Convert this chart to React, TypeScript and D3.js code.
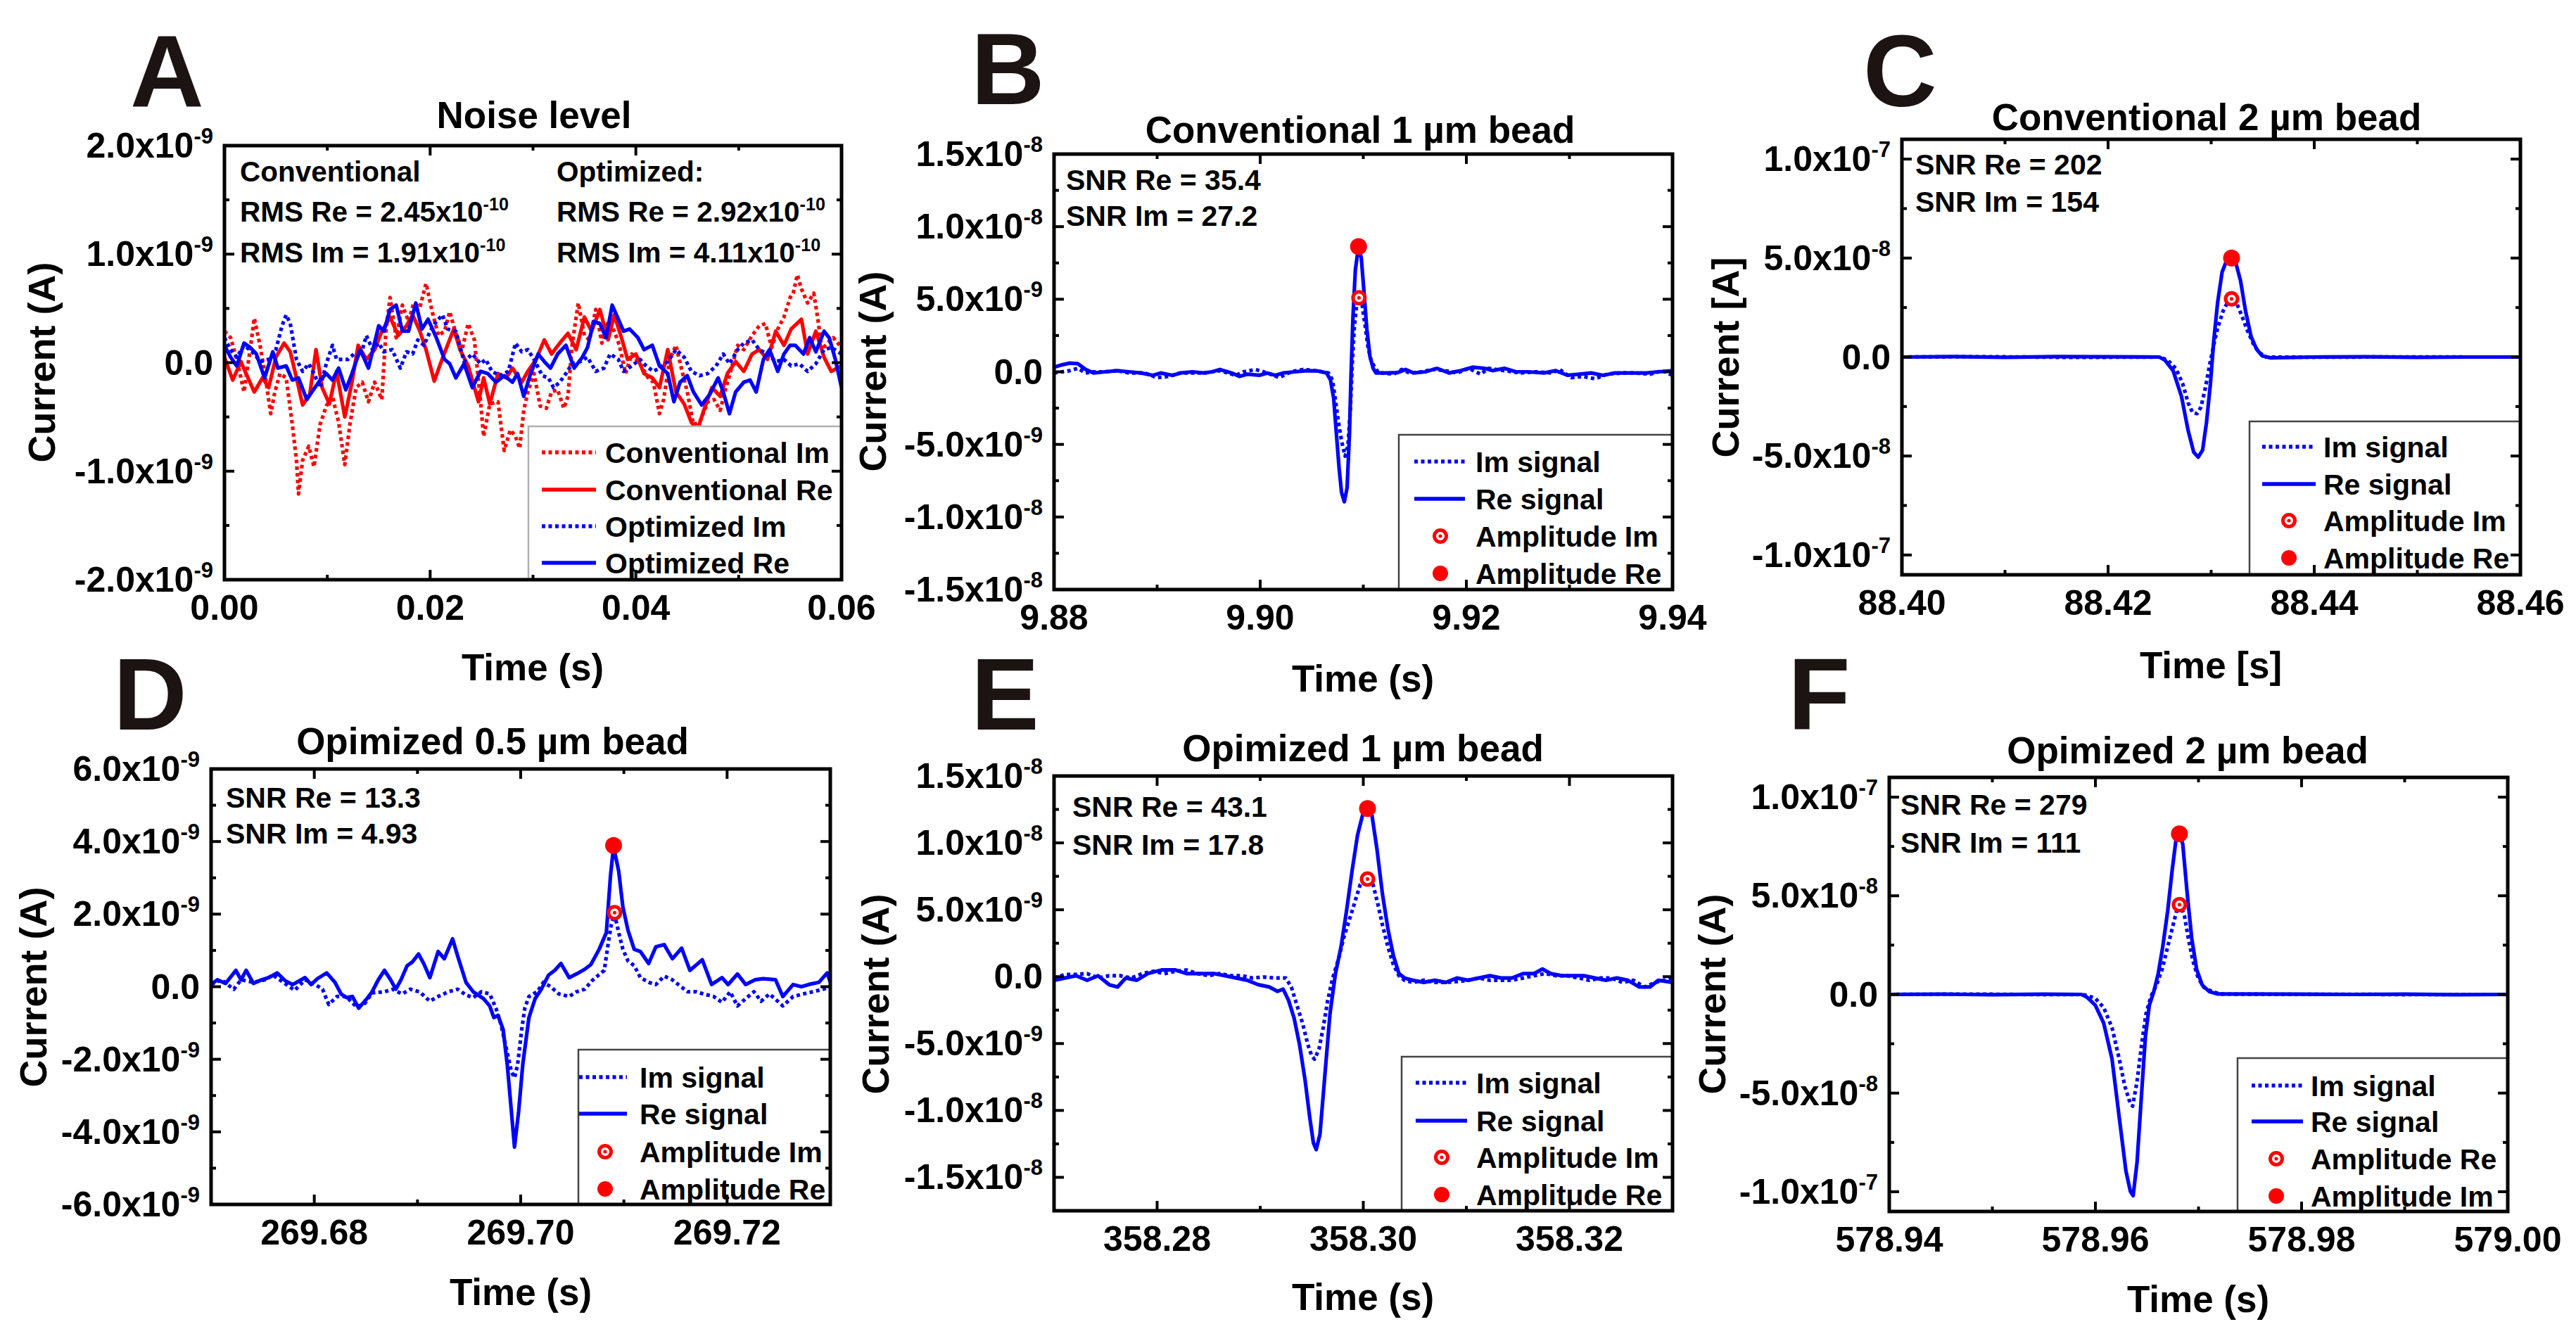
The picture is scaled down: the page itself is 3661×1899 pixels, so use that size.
import * as d3 from "d3";

const FONT = "'Liberation Sans', Arial, Helvetica, sans-serif";
const BLUE = "#0000ff";
const RED = "#ff0000";
const LETTER_INK = "#1b1412";

type Pt = [number, number]; // [ms from the panel's first time, value in the panel's unit]

// ---------- A: noise level (ms, 1e-10 A)
const noiseConvIm: Pt[] = [[0,2.9],[0.6,2.3],[1.2,0.3],[1.9,-2.7],[2.5,1.2],[2.9,4.1],[3.5,1.4],[3.9,-0.8],[4.5,-4.7],[4.9,-2.7],[5.4,-1.0],[6.0,-1.4],[6.6,-5.7],[7.0,-9.0],[7.2,-12.1],[7.6,-9.0],[8.2,-7.7],[8.7,-9.6],[9.3,-5.7],[9.9,-4.0],[10.5,-3.1],[11.1,-5.5],[11.7,-9.4],[12.2,-5.7],[12.8,-2.3],[13.4,-1.8],[14.0,-3.6],[14.6,-1.8],[15.3,-3.4],[15.7,2.9],[16.1,6.0],[16.7,2.3],[17.3,5.3],[17.9,3.8],[18.4,5.5],[19.0,5.1],[19.6,7.3],[20.2,4.7],[20.8,2.5],[21.4,2.9],[21.9,4.7],[22.5,2.7],[23.1,1.2],[23.7,3.6],[24.3,2.1],[24.9,-3.6],[25.2,-6.8],[25.8,-3.8],[26.6,-3.6],[27.2,-8.1],[27.8,-6.2],[28.3,-6.8],[28.7,-7.9],[29.1,-4.4],[29.5,-2.7],[30.1,-1.0],[30.7,-4.0],[31.3,-4.2],[31.8,-2.7],[32.4,-2.5],[33.0,-4.2],[33.4,-3.1],[33.8,1.6],[34.4,5.5],[35.0,2.5],[35.5,2.1],[36.1,4.9],[36.7,1.8],[37.3,3.8],[37.9,2.9],[38.4,1.6],[39.0,-1.0],[39.6,0.8],[40.4,-0.1],[41.2,-1.4],[41.7,-1.8],[42.3,-4.7],[42.7,-3.4],[43.3,0.3],[43.9,1.6],[44.5,-0.8],[45.0,-2.7],[45.6,-5.7],[46.2,-5.5],[47.0,-3.6],[47.6,-3.4],[48.2,-4.4],[48.7,-2.5],[49.3,-0.5],[49.9,1.6],[50.5,1.2],[51.3,2.5],[52.0,3.4],[52.6,3.6],[53.2,1.4],[53.8,3.1],[54.4,4.2],[55.0,6.0],[55.3,6.4],[55.7,8.1],[56.1,6.8],[56.7,5.5],[57.3,6.4],[57.7,4.0],[58.1,1.2],[58.6,1.8],[59.2,2.3],[60.0,1.4]];
const noiseConvRe: Pt[] = [[0,0.5],[0.8,-1.6],[1.6,0.1],[2.1,-1.0],[2.9,-2.7],[3.7,-1.4],[4.3,-2.3],[5.0,0.5],[5.8,1.8],[6.4,1.0],[7.0,-1.4],[7.6,-3.9],[8.3,-2.9],[8.9,1.2],[9.5,-2.3],[10.2,-3.8],[10.9,-0.8],[11.7,-5.0],[12.4,-1.8],[13.0,1.6],[13.8,0.3],[14.6,1.2],[15.3,2.9],[16.1,4.2],[16.9,2.5],[17.7,3.4],[18.3,4.4],[19.0,2.9],[19.6,1.2],[20.4,-1.7],[21.0,-0.1],[21.6,1.4],[22.3,3.1],[22.9,1.2],[23.7,-0.3],[24.7,-3.6],[25.2,-1.4],[25.8,-3.8],[26.6,-1.0],[27.4,-1.4],[28.0,-0.5],[28.9,-1.8],[29.5,-0.8],[30.3,0.3],[31.1,2.1],[31.8,0.8],[32.6,1.8],[33.4,2.7],[34.2,1.2],[35.0,4.2],[35.7,2.9],[36.5,4.9],[37.3,2.1],[37.9,4.4],[38.6,2.3],[39.2,0.3],[40.0,0.8],[40.8,-1.0],[41.6,-1.4],[42.3,-2.3],[43.1,1.2],[43.9,-2.7],[44.7,-3.8],[45.4,-5.5],[46.0,-6.2],[46.6,-4.4],[47.4,-2.3],[48.2,-3.1],[48.9,-1.0],[49.7,0.1],[50.5,-0.8],[51.3,0.8],[52.0,1.2],[52.8,0.3],[53.6,2.9],[54.4,1.6],[55.1,3.1],[56.1,4.0],[56.7,0.8],[57.5,2.9],[58.3,0.5],[59.0,-0.8],[60.0,-0.3]];
const noiseOptIm: Pt[] = [[0,2.3],[0.6,1.2],[1.2,0.5],[1.9,1.6],[2.7,1.0],[3.5,0.1],[4.3,0.3],[5.0,1.2],[5.6,3.4],[6.0,4.4],[6.4,3.6],[7.0,0.3],[7.6,-0.8],[8.2,-0.1],[8.7,-1.0],[9.3,-2.3],[9.9,-0.1],[10.5,1.6],[10.9,0.3],[11.5,0.3],[12.0,0.3],[12.6,0.8],[13.2,0.5],[13.8,2.5],[14.4,1.2],[15.0,1.8],[15.5,1.0],[16.3,1.2],[17.1,-0.5],[17.7,1.0],[18.3,0.8],[18.8,2.1],[19.4,1.6],[20.0,2.9],[20.6,3.8],[21.2,4.4],[21.7,3.1],[22.5,2.9],[23.3,0.1],[24.1,0.8],[24.9,-0.1],[25.4,0.3],[26.0,-0.8],[26.8,-1.2],[27.6,-0.8],[28.3,1.8],[28.9,1.0],[29.5,1.2],[30.1,0.3],[30.9,-1.2],[31.5,-1.4],[32.0,-2.3],[32.6,-1.8],[33.2,-1.0],[33.8,-0.1],[34.6,0.1],[35.3,0.5],[36.1,-0.8],[36.9,-0.5],[37.5,0.8],[38.3,0.3],[38.8,-0.8],[39.6,-0.3],[40.4,0.3],[41.0,-0.3],[41.7,-0.8],[42.3,-0.5],[43.1,0.1],[43.9,1.2],[44.7,0.5],[45.4,-0.8],[46.2,-1.2],[47.0,-1.0],[47.8,-0.3],[48.5,0.8],[49.1,-0.1],[49.9,1.2],[50.5,1.8],[51.3,2.1],[52.0,1.2],[52.8,0.8],[53.6,0.1],[54.4,0.3],[55.1,-0.3],[55.9,-0.1],[56.7,-0.8],[57.5,-0.1],[58.3,1.2],[59.0,1.4],[60.0,0.8]];
const noiseOptRe: Pt[] = [[0,1.6],[0.6,0.5],[1.2,-0.3],[1.9,1.8],[2.5,1.4],[3.1,0.8],[3.9,-1.4],[4.7,1.0],[5.2,-0.5],[6.0,-0.3],[6.6,-1.6],[7.2,-1.4],[8.0,-3.4],[8.5,-2.7],[9.3,-1.6],[9.9,-1.0],[10.5,-1.6],[11.1,-0.5],[11.8,-2.5],[12.4,-1.0],[13.2,1.2],[14.0,-0.5],[15.0,3.4],[15.5,2.9],[16.1,4.9],[16.7,5.3],[17.3,2.9],[17.9,2.9],[18.6,5.5],[19.2,3.1],[19.8,4.0],[20.6,2.3],[21.4,0.3],[21.9,-0.1],[22.5,-1.4],[23.3,-0.1],[24.1,-2.3],[24.9,-0.8],[25.6,-1.0],[26.4,-1.8],[27.2,-1.2],[28.0,-1.8],[28.5,-1.0],[29.1,-3.1],[29.7,-1.2],[30.5,0.8],[31.1,0.1],[31.7,-0.5],[32.4,0.8],[33.2,1.6],[34.0,-0.5],[34.8,0.5],[35.3,1.4],[35.9,3.8],[36.5,3.6],[37.1,2.3],[37.7,5.3],[38.3,4.0],[38.8,2.9],[39.4,3.1],[40.2,2.3],[40.8,1.2],[41.6,1.6],[42.3,-0.3],[43.1,-1.0],[43.7,-3.6],[44.3,-1.8],[45.0,-1.2],[45.6,-2.7],[46.4,-3.9],[47.2,-2.9],[48.0,-1.4],[48.5,-2.7],[49.1,-4.7],[49.7,-2.7],[50.5,-1.8],[51.1,-1.6],[51.7,-2.7],[52.4,0.3],[53.0,1.2],[53.8,-0.8],[54.4,0.8],[55.0,1.6],[55.5,1.6],[56.3,0.8],[56.9,2.3],[57.5,1.0],[58.3,2.9],[58.8,2.3],[59.4,0.3],[60.0,-2.3]];

// ---------- B: conventional 1 um bead (ms from 9.88 s, 1e-9 A)
const conv1Im: Pt[] = [[0,-0.08],[0.77,0],[1.53,0.08],[2.3,0.24],[3.07,-0.08],[3.83,0],[4.98,0],[6.13,0.08],[7.28,-0.08],[8.81,-0.08],[9.96,-0.4],[11.11,-0.32],[12.26,-0.08],[13.41,-0.08],[14.56,-0.08],[16.09,0.08],[17.62,-0.24],[18.39,0],[19.54,0.16],[20.69,-0.08],[21.84,-0.4],[22.99,0],[24.14,0.16],[25.29,0.08],[26.63,-0.08],[27.01,-0.56],[27.28,-1.85],[27.59,-3.47],[27.89,-4.76],[28.24,-5.81],[28.51,-5.08],[28.74,-2.66],[28.93,0.56],[29.12,2.98],[29.35,4.6],[29.58,5.08],[29.89,4.6],[30.15,3.31],[30.46,1.69],[30.77,0.73],[31.11,0.32],[31.49,-0.08],[31.8,-0.08],[32.95,-0.16],[33.72,0.16],[34.48,-0.08],[35.63,0],[36.78,0.16],[37.93,0.08],[39.08,-0.08],[40.23,0.24],[41.38,-0.16],[42.15,0.24],[43.68,0.08],[45.21,-0.08],[46.74,0],[48.28,-0.08],[49.04,0.16],[50.19,-0.4],[51.34,-0.32],[52.49,-0.48],[53.64,-0.16],[55.17,-0.08],[56.32,-0.08],[57.85,-0.16],[59.0,0.08],[60.0,-0.24]];
const conv1Re: Pt[] = [[0,0.32],[0.77,0.48],[1.53,0.6],[2.3,0.56],[3.07,0.16],[3.83,-0.08],[4.98,0],[6.13,0.08],[7.28,0],[8.43,-0.08],[9.58,-0.24],[10.34,-0.08],[11.49,-0.24],[12.26,-0.08],[13.41,0],[14.56,-0.08],[15.33,0],[16.09,0.16],[17.24,-0.08],[18.0,-0.32],[18.77,-0.16],[19.92,-0.24],[20.69,-0.08],[21.46,-0.24],[22.22,-0.08],[23.37,0],[24.52,0.08],[25.67,0.05],[26.44,-0.08],[26.82,-0.56],[27.13,-1.85],[27.39,-4.27],[27.66,-6.69],[27.89,-8.31],[28.16,-8.95],[28.43,-7.98],[28.66,-4.27],[28.81,-0.24],[29.0,3.79],[29.23,7.02],[29.54,8.63],[29.81,7.82],[30.08,5.4],[30.34,2.98],[30.65,1.05],[30.96,0.24],[31.23,-0.08],[32.18,-0.08],[33.33,-0.05],[34.1,0.16],[34.87,-0.08],[36.02,0],[37.16,0.24],[38.31,-0.08],[39.46,0.08],[40.61,0.32],[41.76,0.24],[42.53,0.08],[43.68,0.24],[44.83,0],[45.98,0],[47.51,-0.08],[48.66,0.08],[49.81,-0.24],[50.96,-0.16],[52.11,-0.08],[53.26,-0.24],[54.41,-0.08],[55.94,-0.08],[57.47,-0.08],[58.62,0],[60.0,0.08]];
const conv1Amp: Pt[] = [[29.54, 8.63], [29.58, 5.1]]; // Re, Im

// ---------- C: conventional 2 um bead (ms from 88.40 s, 1e-8 A)
const conv2Im: Pt[] = [[0,0],[5,0.01],[10,0.01],[15,-0.01],[20,-0.01],[24.96,0],[25.77,-0.15],[26.58,-0.58],[27.23,-1.34],[27.77,-2.32],[28.2,-2.81],[28.63,-2.86],[29.01,-2.53],[29.44,-1.56],[29.82,-0.48],[30.25,0.61],[30.63,1.47],[31.17,2.34],[31.71,2.88],[32.09,2.99],[32.52,2.66],[32.95,2.12],[33.5,1.36],[34.14,0.61],[34.68,0.22],[35.33,0],[40,-0.01],[45,0],[50,0.01],[55,0],[60,0]];
const conv2Re: Pt[] = [[0,0],[5,0.02],[10,-0.01],[15,0.02],[20,0.01],[24.96,0],[25.5,-0.15],[26.31,-0.69],[27.12,-1.99],[27.77,-3.72],[28.31,-4.81],[28.74,-5.06],[29.17,-4.7],[29.55,-3.29],[29.93,-1.34],[30.25,0.82],[30.63,2.77],[31.06,4.29],[31.55,4.94],[31.98,5.0],[32.41,4.72],[32.85,3.85],[33.33,2.34],[33.87,1.04],[34.41,0.39],[34.95,0.06],[35.76,-0.04],[40,0],[45,0.01],[50,-0.01],[55,0],[60,0]];
const conv2Amp: Pt[] = [[31.98, 5.0], [31.98, 2.94]];

// ---------- D: optimized 0.5 um bead (ms from 269.67 s, 1e-9 A)
const opt05Im: Pt[] = [[0,0.06],[1.0,0.19],[2.2,-0.07],[2.9,0.19],[4.1,0.12],[5.2,0.19],[6.0,0.32],[7.0,0.12],[8.1,-0.1],[9.1,0.19],[10.1,0.06],[10.8,-0.07],[11.4,-0.49],[12.2,-0.27],[13.1,-0.27],[14.1,-0.56],[14.9,-0.46],[15.6,-0.17],[16.8,-0.14],[17.6,-0.07],[18.5,-0.2],[19.3,-0.07],[20.2,-0.14],[21.2,-0.4],[22.0,-0.27],[23.0,-0.14],[23.9,-0.07],[24.7,-0.23],[25.4,-0.3],[26.2,-0.14],[27.0,-0.2],[27.6,-0.59],[28.1,-1.05],[28.7,-1.82],[29.1,-2.34],[29.4,-2.51],[29.7,-2.15],[30.1,-1.18],[30.4,-0.59],[30.8,-0.27],[31.6,-0.14],[32.2,0.12],[32.9,0],[33.7,-0.2],[34.7,-0.27],[35.4,-0.14],[36.2,-0.07],[37.0,0.19],[37.8,0.38],[38.1,0.45],[38.5,1.23],[38.8,1.75],[39.1,2.0],[39.5,1.49],[39.9,1.03],[40.4,0.71],[41.0,0.58],[41.6,0.25],[42.4,0.12],[43.1,0.06],[43.9,0.29],[44.7,0.19],[45.4,0.03],[46.2,-0.14],[47.0,-0.14],[47.7,-0.2],[48.7,-0.27],[49.5,-0.43],[50.3,-0.14],[51.0,-0.53],[51.8,-0.33],[52.6,-0.14],[53.3,-0.4],[54.1,-0.2],[54.9,-0.4],[55.4,-0.53],[56.4,-0.27],[57.4,-0.2],[58.3,-0.14],[59.3,-0.07],[60.0,0]];
const opt05Re: Pt[] = [[0,0.06],[0.6,0.19],[1.4,0.09],[2.4,0.45],[2.9,0.19],[3.4,0.45],[4.1,0.09],[4.9,0.19],[5.6,0.25],[6.4,0.38],[7.2,0.16],[7.9,0.06],[9.1,0.25],[9.7,0.06],[10.3,0.22],[11.2,0.38],[12.0,0.12],[12.6,-0.2],[13.1,-0.3],[13.7,-0.27],[14.3,-0.59],[15.1,-0.33],[15.6,-0.14],[16.2,0.19],[16.8,0.45],[17.4,0.19],[17.9,-0.07],[18.4,0.19],[19.0,0.58],[19.5,0.68],[20.1,0.9],[20.6,0.64],[21.2,0.25],[22.0,0.97],[22.6,0.77],[23.4,1.32],[23.9,0.84],[24.7,0.12],[25.4,-0.14],[26.4,-0.33],[27.0,-0.53],[27.4,-0.85],[27.8,-0.79],[28.3,-1.18],[28.7,-2.15],[29.1,-3.44],[29.4,-4.42],[29.8,-3.44],[30.2,-2.15],[30.8,-0.85],[31.4,-0.33],[32.0,-0.07],[32.7,0.32],[33.3,0.45],[33.9,0.64],[34.7,0.25],[35.4,0.35],[36.2,0.48],[36.8,0.61],[37.6,1.03],[38.3,1.49],[38.7,3.05],[39.0,3.86],[39.5,3.18],[39.9,2.2],[40.4,1.55],[41.0,1.03],[41.6,0.97],[42.4,0.64],[43.1,1.1],[43.9,1.16],[44.7,0.77],[45.6,1.06],[46.4,0.45],[47.6,0.74],[48.5,0.06],[49.5,0.25],[50.1,0.06],[51.0,0.35],[51.8,0.06],[52.7,0.19],[53.5,0.22],[54.7,0.19],[55.4,-0.27],[56.4,0.06],[57.2,0],[57.9,0.06],[58.9,0.12],[59.7,0.38],[60.0,0.12]];
const opt05Amp: Pt[] = [[39.0, 3.89], [39.1, 2.04]];

// ---------- E: optimized 1 um bead (ms from 358.27 s, 1e-9 A)
const opt1Im: Pt[] = [[0,-0.1],[1.07,0.17],[2.14,0.17],[3.21,0.23],[4.28,-0.1],[5.35,0.07],[6.42,0.07],[7.49,-0.1],[8.57,0.23],[9.64,0.4],[10.71,0.23],[11.78,0.4],[12.85,0.5],[13.92,0.23],[14.99,0.07],[16.06,0.23],[17.13,0.07],[18.2,0.07],[19.27,-0.1],[20.34,-0.03],[21.41,-0.1],[22.48,-0.1],[23.02,-0.77],[23.55,-2.1],[24.09,-3.43],[24.63,-5.1],[25.0,-5.93],[25.27,-6.17],[25.7,-5.43],[26.12,-3.77],[26.55,-1.77],[27.03,-0.1],[27.57,1.23],[28.1,2.9],[28.64,4.23],[29.18,5.57],[29.71,6.9],[30.14,7.3],[30.51,7.25],[30.94,6.9],[31.37,5.57],[31.85,3.9],[32.39,2.23],[32.92,0.9],[33.46,0.07],[34.0,-0.27],[34.8,-0.43],[35.87,-0.27],[36.94,-0.43],[38.01,-0.43],[39.08,-0.37],[40.15,-0.27],[41.22,-0.1],[42.29,-0.27],[43.36,-0.27],[44.43,-0.27],[45.5,-0.1],[46.57,0.07],[47.64,0.23],[48.72,0.07],[49.79,0.07],[50.86,-0.1],[51.93,-0.27],[53.0,-0.1],[54.07,-0.1],[55.14,-0.43],[56.21,-0.27],[57.28,-0.77],[58.35,-0.43],[60.0,-0.1]];
const opt1Re: Pt[] = [[0,-0.27],[1.07,-0.1],[2.14,0.07],[3.21,-0.27],[4.28,0.07],[5.35,-0.6],[6.16,-0.77],[6.96,-0.1],[8.03,-0.27],[9.1,0.23],[10.44,0.5],[11.78,0.5],[12.85,0.23],[14.19,0.23],[15.52,0.23],[16.6,0.07],[17.67,-0.1],[18.74,-0.27],[19.81,-0.6],[20.88,-0.77],[21.68,-1.1],[22.22,-0.93],[22.75,-1.77],[23.29,-3.1],[23.82,-5.1],[24.36,-7.77],[24.79,-10.43],[25.16,-12.43],[25.43,-12.93],[25.8,-11.77],[26.23,-7.77],[26.77,-2.77],[27.3,0.23],[27.84,2.23],[28.37,4.9],[28.91,7.9],[29.44,10.57],[29.98,12.23],[30.41,12.57],[30.84,12.07],[31.32,9.57],[31.85,6.23],[32.39,3.57],[32.92,1.57],[33.46,0.23],[34.0,-0.1],[34.8,-0.27],[35.87,-0.43],[36.94,-0.27],[38.01,-0.43],[39.08,-0.1],[40.15,-0.27],[41.22,-0.1],[42.29,0.07],[43.36,-0.1],[44.43,-0.1],[45.5,0.23],[46.57,0.23],[47.38,0.57],[48.18,0.23],[49.25,0.07],[50.32,0.07],[51.39,0.07],[52.46,-0.1],[53.53,-0.27],[54.6,-0.1],[55.67,-0.27],[56.75,-0.77],[57.82,-0.77],[58.62,-0.27],[60.0,-0.43]];
const opt1Amp: Pt[] = [[30.41, 12.57], [30.41, 7.3]];

// ---------- F: optimized 2 um bead (ms from 578.94 s, 1e-8 A)
const opt2Im: Pt[] = [[0,0],[5,0.01],[10,0.01],[15,-0.01],[18.64,0],[19.18,-0.05],[19.99,-0.2],[20.8,-0.66],[21.61,-1.68],[22.31,-3.27],[22.85,-4.64],[23.39,-5.55],[23.61,-5.66],[24.04,-4.41],[24.47,-2.59],[24.9,-1.0],[25.39,-0.09],[25.93,0.48],[26.47,1.27],[27.01,2.41],[27.55,3.55],[27.93,4.34],[28.26,4.52],[28.63,4.0],[29.01,2.86],[29.44,1.73],[29.98,0.82],[30.52,0.36],[31.33,0.14],[32.14,0.02],[40,0],[45,0.01],[50,-0.01],[55,0],[60,0]];
const opt2Re: Pt[] = [[0,0],[5,0.01],[10,-0.01],[15,0.01],[18.64,0],[19.18,-0.14],[19.99,-0.55],[20.8,-1.45],[21.61,-3.27],[22.31,-6.23],[22.96,-8.95],[23.39,-9.98],[23.66,-10.2],[24.04,-8.5],[24.47,-5.09],[24.85,-2.14],[25.23,-0.55],[25.66,0.14],[26.09,1.05],[26.53,2.41],[27.01,4.23],[27.44,6.27],[27.82,7.86],[28.15,8.09],[28.47,7.64],[28.9,5.14],[29.34,2.86],[29.82,1.27],[30.36,0.48],[31.06,0.14],[31.87,0.02],[40,0.01],[45,0],[50,0.01],[55,-0.01],[60,0]];
const opt2Amp: Pt[] = [[28.15, 8.14], [28.15, 4.55]];

// ---------- tick values
const xTicksA = [0, 0.02, 0.04, 0.06];
const xMinorA = [0.01, 0.03, 0.05];
const yTicksA = [-2e-9, -1e-9, 0, 1e-9, 2e-9];
const yMinorA = [-1.5e-9, -0.5e-9, 0.5e-9, 1.5e-9];
const xTicksB = [9.88, 9.9, 9.92, 9.94];
const xMinorB = [9.89, 9.91, 9.93];
const yTicks15 = [-1.5e-8, -1e-8, -5e-9, 0, 5e-9, 1e-8, 1.5e-8];
const yMinor15 = [-1.25e-8, -7.5e-9, -2.5e-9, 2.5e-9, 7.5e-9, 1.25e-8];
const xTicksC = [88.4, 88.42, 88.44, 88.46];
const xMinorC = [88.41, 88.43, 88.45];
const yTicks10 = [-1e-7, -5e-8, 0, 5e-8, 1e-7];
const yMinor10 = [-7.5e-8, -2.5e-8, 2.5e-8, 7.5e-8];
const xTicksD = [269.68, 269.7, 269.72];
const xMinorD = [269.69, 269.71];
const yTicksD = [-6e-9, -4e-9, -2e-9, 0, 2e-9, 4e-9, 6e-9];
const yMinorD = [-5e-9, -3e-9, -1e-9, 1e-9, 3e-9, 5e-9];
const xTicksE = [358.28, 358.3, 358.32];
const xMinorE = [358.29, 358.31];
const xTicksF = [578.94, 578.96, 578.98, 579.0];
const xMinorF = [578.95, 578.97, 578.99];

type Curve = { pts: Pt[]; color: string; dotted?: boolean };
type Key = { label: string; color: string; kind: "solid" | "dotted" | "open" | "filled" };
type Note = { text: string; sup?: string; x: number; y: number };

type PanelSpec = {
  letter: string; letterAt: [number, number];
  title: string; titleAt: [number, number];
  box: { x0: number; y0: number; x1: number; y1: number };
  t0: number; unit: number; yDomain: [number, number];
  xTicks: number[]; xMinor: number[]; xDigits: number;
  yTicks: number[]; yMinor: number[];
  curves: Curve[]; amp?: Pt[];
  xLabel: string; xLabelAt: [number, number];
  yLabel: string; yLabelAt: [number, number];
  notes: Note[]; noteSize: number;
  legend: { x0: number; y0: number; rows: number[]; lineX: [number, number]; markX: number; textX: number; size: number; border: string; keys: Key[] };
};

const beadKeys = (swap: boolean): Key[] => [
  { label: "Im signal", color: BLUE, kind: "dotted" },
  { label: "Re signal", color: BLUE, kind: "solid" },
  { label: swap ? "Amplitude Re" : "Amplitude Im", color: RED, kind: "open" },
  { label: swap ? "Amplitude Im" : "Amplitude Re", color: RED, kind: "filled" },
];

const beadCurves = (im: Pt[], re: Pt[]): Curve[] => [
  { pts: im, color: BLUE, dotted: true },
  { pts: re, color: BLUE },
];

const panels: PanelSpec[] = [
  {
    letter: "A", letterAt: [185, 151], title: "Noise level", titleAt: [759, 182],
    box: { x0: 319, y0: 207, x1: 1196, y1: 824 }, t0: 0, unit: 1e-10, yDomain: [-2e-9, 2e-9],
    xTicks: xTicksA, xMinor: xMinorA, xDigits: 2, yTicks: yTicksA, yMinor: yMinorA,
    curves: [
      { pts: noiseConvIm, color: RED, dotted: true },
      { pts: noiseConvRe, color: RED },
      { pts: noiseOptIm, color: BLUE, dotted: true },
      { pts: noiseOptRe, color: BLUE },
    ],
    xLabel: "Time (s)", xLabelAt: [757, 967], yLabel: "Current (A)", yLabelAt: [78, 515],
    noteSize: 40.5,
    notes: [
      { text: "Conventional", x: 341, y: 258 },
      { text: "RMS Re = 2.45x10", sup: "-10", x: 341, y: 315 },
      { text: "RMS Im = 1.91x10", sup: "-10", x: 341, y: 373 },
      { text: "Optimized:", x: 791, y: 258 },
      { text: "RMS Re = 2.92x10", sup: "-10", x: 791, y: 315 },
      { text: "RMS Im = 4.11x10", sup: "-10", x: 791, y: 373 },
    ],
    legend: {
      x0: 751, y0: 606, rows: [643, 696, 748, 800], lineX: [770, 847], markX: 808, textX: 860, size: 41, border: "#b0b0b0",
      keys: [
        { label: "Conventional Im", color: RED, kind: "dotted" },
        { label: "Conventional Re", color: RED, kind: "solid" },
        { label: "Optimized Im", color: BLUE, kind: "dotted" },
        { label: "Optimized Re", color: BLUE, kind: "solid" },
      ],
    },
  },
  {
    letter: "B", letterAt: [1380, 148], title: "Conventional 1 \u00b5m bead", titleAt: [1933, 203],
    box: { x0: 1498, y0: 219, x1: 2377, y1: 838 }, t0: 9.88, unit: 1e-9, yDomain: [-1.5e-8, 1.5e-8],
    xTicks: xTicksB, xMinor: xMinorB, xDigits: 2, yTicks: yTicks15, yMinor: yMinor15,
    curves: beadCurves(conv1Im, conv1Re), amp: conv1Amp,
    xLabel: "Time (s)", xLabelAt: [1937, 983], yLabel: "Current (A)", yLabelAt: [1259, 528],
    noteSize: 41,
    notes: [{ text: "SNR Re = 35.4", x: 1515, y: 270 }, { text: "SNR Im = 27.2", x: 1515, y: 321 }],
    legend: { x0: 1988, y0: 618, rows: [656, 709, 762, 815], lineX: [2010, 2082], markX: 2047, textX: 2097, size: 41, border: "#444", keys: beadKeys(false) },
  },
  {
    letter: "C", letterAt: [2648, 151], title: "Conventional 2 \u00b5m bead", titleAt: [3136, 185],
    box: { x0: 2703, y0: 198, x1: 3582, y1: 817 }, t0: 88.4, unit: 1e-8, yDomain: [-1.1e-7, 1.1e-7],
    xTicks: xTicksC, xMinor: xMinorC, xDigits: 2, yTicks: yTicks10, yMinor: yMinor10,
    curves: beadCurves(conv2Im, conv2Re), amp: conv2Amp,
    xLabel: "Time [s]", xLabelAt: [3142, 964], yLabel: "Current [A]", yLabelAt: [2471, 508],
    noteSize: 41,
    notes: [{ text: "SNR Re = 202", x: 2722, y: 248 }, { text: "SNR Im = 154", x: 2722, y: 301 }],
    legend: { x0: 3197, y0: 599, rows: [635, 688, 740, 793], lineX: [3215, 3291], markX: 3253, textX: 3302, size: 41, border: "#444", keys: beadKeys(false) },
  },
  {
    letter: "D", letterAt: [161, 1037], title: "Opimized 0.5 \u00b5m bead", titleAt: [700, 1072],
    box: { x0: 300, y0: 1093, x1: 1180, y1: 1712 }, t0: 269.67, unit: 1e-9, yDomain: [-6e-9, 6e-9],
    xTicks: xTicksD, xMinor: xMinorD, xDigits: 2, yTicks: yTicksD, yMinor: yMinorD,
    curves: beadCurves(opt05Im, opt05Re), amp: opt05Amp,
    xLabel: "Time (s)", xLabelAt: [740, 1855], yLabel: "Current (A)", yLabelAt: [66, 1403],
    noteSize: 41,
    notes: [{ text: "SNR Re = 13.3", x: 321, y: 1148 }, { text: "SNR Im = 4.93", x: 321, y: 1199 }],
    legend: { x0: 822, y0: 1492, rows: [1531, 1583, 1637, 1690], lineX: [823, 891], markX: 860, textX: 909, size: 41, border: "#444", keys: beadKeys(false) },
  },
  {
    letter: "E", letterAt: [1380, 1037], title: "Opimized 1 \u00b5m bead", titleAt: [1937, 1082],
    box: { x0: 1498, y0: 1103, x1: 2377, y1: 1721 }, t0: 358.27, unit: 1e-9, yDomain: [-1.75e-8, 1.5e-8],
    xTicks: xTicksE, xMinor: xMinorE, xDigits: 2, yTicks: yTicks15, yMinor: yMinor15,
    curves: beadCurves(opt1Im, opt1Re), amp: opt1Amp,
    xLabel: "Time (s)", xLabelAt: [1937, 1862], yLabel: "Current (A)", yLabelAt: [1263, 1413],
    noteSize: 41,
    notes: [{ text: "SNR Re = 43.1", x: 1524, y: 1161 }, { text: "SNR Im = 17.8", x: 1524, y: 1215 }],
    legend: { x0: 1992, y0: 1502, rows: [1539, 1593, 1645, 1698], lineX: [2012, 2085], markX: 2049, textX: 2098, size: 41, border: "#444", keys: beadKeys(false) },
  },
  {
    letter: "F", letterAt: [2541, 1037], title: "Opimized 2 \u00b5m bead", titleAt: [3109, 1085],
    box: { x0: 2685, y0: 1105, x1: 3564, y1: 1722 }, t0: 578.94, unit: 1e-8, yDomain: [-1.1e-7, 1.1e-7],
    xTicks: xTicksF, xMinor: xMinorF, xDigits: 2, yTicks: yTicks10, yMinor: yMinor10,
    curves: beadCurves(opt2Im, opt2Re), amp: opt2Amp,
    xLabel: "Time (s)", xLabelAt: [3124, 1865], yLabel: "Current (A)", yLabelAt: [2452, 1413],
    noteSize: 41,
    notes: [{ text: "SNR Re = 279", x: 2701, y: 1158 }, { text: "SNR Im = 111", x: 2701, y: 1212 }],
    legend: { x0: 3180, y0: 1504, rows: [1543, 1594, 1647, 1700], lineX: [3200, 3273], markX: 3235, textX: 3284, size: 41, border: "#444", keys: beadKeys(true) },
  },
];

// "1.5x10" + "-8" (superscript); zero reads "0.0"
function sciParts(v: number): [string, string | null] {
  if (Math.abs(v) < 1e-20) return ["0.0", null];
  const e = Math.floor(Math.log10(Math.abs(v)) + 1e-9);
  const m = v / Math.pow(10, e);
  return [`${m.toFixed(1)}x10`, `${e}`];
}

const LINE_W = 5.2;
const DOTS = "5 4.5";

function OpenMark({ x, y }: { x: number; y: number }) {
  return (
    <g>
      <circle cx={x} cy={y} r={8.5} fill="#fff" stroke={RED} strokeWidth={5} />
      <circle cx={x} cy={y} r={2.6} fill={RED} />
    </g>
  );
}

function Panel({ p }: { p: PanelSpec }) {
  const { x0, y0, x1, y1 } = p.box;
  const x = d3.scaleLinear().domain([p.t0, p.t0 + 0.06]).range([x0, x1]);
  const y = d3.scaleLinear().domain(p.yDomain).range([y1, y0]);
  const line = d3
    .line<Pt>()
    .x((d) => x(p.t0 + d[0] / 1000))
    .y((d) => y(d[1] * p.unit));
  const clipId = `clip-${p.letter}`;
  const lg = p.legend;

  return (
    <g fontFamily={FONT} fontWeight="bold">
      <defs>
        <clipPath id={clipId}>
          <rect x={x0} y={y0} width={x1 - x0} height={y1 - y0} />
        </clipPath>
      </defs>

      <text x={p.letterAt[0]} y={p.letterAt[1]} fontSize={145} fill={LETTER_INK}>{p.letter}</text>
      <text x={p.titleAt[0]} y={p.titleAt[1]} fontSize={53} textAnchor="middle">{p.title}</text>

      <g clipPath={`url(#${clipId})`}>
        {p.curves.map((c, i) => (
          <path key={i} d={line(c.pts) ?? ""} fill="none" stroke={c.color} strokeWidth={LINE_W}
            strokeDasharray={c.dotted ? DOTS : undefined} strokeLinejoin="round" />
        ))}
        {p.amp && (
          <g>
            <circle cx={x(p.t0 + p.amp[0][0] / 1000)} cy={y(p.amp[0][1] * p.unit)} r={12} fill={RED} />
            <OpenMark x={x(p.t0 + p.amp[1][0] / 1000)} y={y(p.amp[1][1] * p.unit)} />
          </g>
        )}
      </g>

      {p.notes.map((n, i) => (
        <text key={i} x={n.x} y={n.y} fontSize={p.noteSize}>
          {n.text}
          {n.sup && <tspan dy={-16} fontSize={p.noteSize * 0.62}>{n.sup}</tspan>}
        </text>
      ))}

      <g>
        <rect x={lg.x0} y={lg.y0} width={x1 - lg.x0} height={y1 - lg.y0} fill="#fff" stroke={lg.border} strokeWidth={2.5} />
        {lg.keys.map((k, i) => {
          const ry = lg.rows[i];
          return (
            <g key={i}>
              {(k.kind === "solid" || k.kind === "dotted") && (
                <line x1={lg.lineX[0]} x2={lg.lineX[1]} y1={ry} y2={ry} stroke={k.color} strokeWidth={LINE_W + 0.5}
                  strokeDasharray={k.kind === "dotted" ? DOTS : undefined} />
              )}
              {k.kind === "filled" && <circle cx={lg.markX} cy={ry} r={11} fill={RED} />}
              {k.kind === "open" && <OpenMark x={lg.markX} y={ry} />}
              <text x={lg.textX} y={ry + 15} fontSize={lg.size}>{k.label}</text>
            </g>
          );
        })}
      </g>

      {/* frame and inward ticks on all four sides */}
      <rect x={x0} y={y0} width={x1 - x0} height={y1 - y0} fill="none" stroke="#000" strokeWidth={5} />
      <g stroke="#000" strokeWidth={4}>
        {p.xTicks.map((t) => (
          <g key={`xm${t}`}>
            <line x1={x(t)} x2={x(t)} y1={y1} y2={y1 - 14} />
            <line x1={x(t)} x2={x(t)} y1={y0} y2={y0 + 14} />
          </g>
        ))}
        {p.xMinor.map((t) => (
          <g key={`xn${t}`}>
            <line x1={x(t)} x2={x(t)} y1={y1} y2={y1 - 7} />
            <line x1={x(t)} x2={x(t)} y1={y0} y2={y0 + 7} />
          </g>
        ))}
        {p.yTicks.map((v) => (
          <g key={`ym${v}`}>
            <line x1={x0} x2={x0 + 14} y1={y(v)} y2={y(v)} />
            <line x1={x1} x2={x1 - 14} y1={y(v)} y2={y(v)} />
          </g>
        ))}
        {p.yMinor.map((v) => (
          <g key={`yn${v}`}>
            <line x1={x0} x2={x0 + 7} y1={y(v)} y2={y(v)} />
            <line x1={x1} x2={x1 - 7} y1={y(v)} y2={y(v)} />
          </g>
        ))}
      </g>

      {p.xTicks.map((t) => (
        <text key={`xl${t}`} x={x(t)} y={y1 + 57} fontSize={50} textAnchor="middle">{t.toFixed(p.xDigits)}</text>
      ))}
      {p.yTicks.map((v) => {
        const [main, sup] = sciParts(v);
        return (
          <text key={`yl${v}`} x={x0 - 16} y={y(v) + 17} fontSize={50} textAnchor="end">
            {main}
            {sup && <tspan dy={-20} fontSize={31}>{sup}</tspan>}
          </text>
        );
      })}

      <text x={p.xLabelAt[0]} y={p.xLabelAt[1]} fontSize={53} textAnchor="middle">{p.xLabel}</text>
      <text transform={`translate(${p.yLabelAt[0]},${p.yLabelAt[1]}) rotate(-90)`} fontSize={54} textAnchor="middle">{p.yLabel}</text>
    </g>
  );
}

export default function App() {
  return (
    <svg width={3661} height={1899} viewBox="0 0 3661 1899"
      style={{ position: "absolute", left: 0, top: 0, background: "#fff", display: "block" }}>
      <rect x={0} y={0} width={3661} height={1899} fill="#fff" />
      {panels.map((p) => (
        <Panel key={p.letter} p={p} />
      ))}
    </svg>
  );
}
